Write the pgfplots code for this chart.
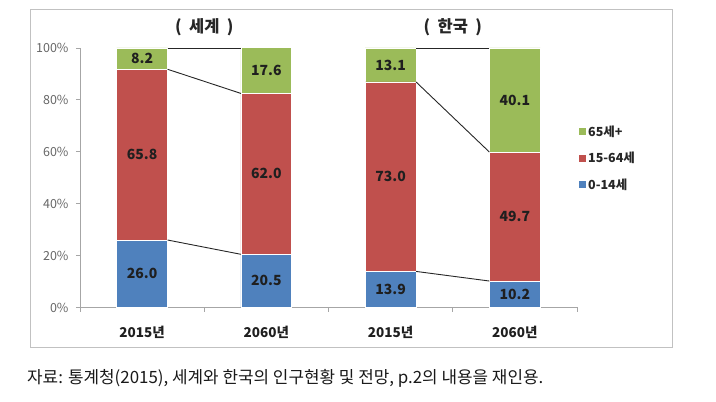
\documentclass[border=0pt]{standalone}
\usepackage{pgfplots}
\pgfplotsset{compat=1.18}
\usepackage{fontspec}
\setmainfont{Noto Sans CJK KR}
\definecolor{cBlue}{HTML}{4F81BD}
\definecolor{cRed}{HTML}{C0504D}
\definecolor{cGreen}{HTML}{9BBB59}
\definecolor{axgray}{HTML}{A6A6A6}
\tikzset{lbl/.style={font=\bfseries\fontsize{14}{14}\selectfont, text=black!88}}
\begin{document}
\begin{tikzpicture}
  \path[use as bounding box] (0pt,0pt) rectangle (716pt,402pt);
  \draw[axgray!70, line width=0.8pt] (30pt,55pt) rectangle (672pt,393pt);

  \begin{axis}[
      at={(80pt,94.5pt)}, anchor=south west,
      scale only axis, width=497pt, height=259.5pt,
      ybar stacked, bar width=0.41,
      xmin=-0.5, xmax=3.5, ymin=0, ymax=100,
      xtick={0,1,2,3},
      xticklabels={2015년,2060년,2015년,2060년},
      minor xtick={-0.5,0.5,1.5,2.5,3.5},
      major x tick style={draw=none},
      ytick={0,20,40,60,80,100},
      yticklabels={0\%,20\%,40\%,60\%,80\%,100\%},
      axis x line*=bottom, axis y line*=left,
      axis line style={axgray, -, line width=0.8pt},
      tick align=outside,
      tick style={axgray, line width=0.8pt},
      major tick length=4pt, minor tick length=4pt,
      xticklabel style={font=\bfseries\fontsize{13.5}{13.5}\selectfont, text=black!88, yshift=-11pt},
      yticklabel style={font=\fontsize{12.5}{12.5}\selectfont, text=black!60, xshift=-4pt},
      clip=false,
      reverse legend,
      legend cell align=left,
      legend style={at={(1.004,0.71)}, anchor=north west, draw=none, fill=none,
        font=\bfseries\fontsize{12.5}{12.5}\selectfont, text=black!85,
        row sep=10.5pt, inner sep=0pt},
      legend image code/.code={\fill[#1, draw=none] (0pt,-3.5pt) rectangle (7pt,3.5pt);},
    ]
    \addplot[fill=cBlue, draw=white, line width=0.8pt] coordinates {(0,26.0) (1,20.5) (2,13.9) (3,10.2)};
    \addlegendentry{0-14세}
    \addplot[fill=cRed, draw=white, line width=0.8pt] coordinates {(0,65.8) (1,62.0) (2,73.0) (3,49.7)};
    \addlegendentry{15-64세}
    \addplot[fill=cGreen, draw=white, line width=0.8pt] coordinates {(0,8.2) (1,17.6) (2,13.1) (3,40.1)};
    \addlegendentry{65세+}
  \end{axis}

  % connector lines and value labels, drawn over the bars
  \begin{axis}[
      at={(80pt,94.5pt)}, anchor=south west,
      scale only axis, width=497pt, height=259.5pt,
      xmin=-0.5, xmax=3.5, ymin=0, ymax=100,
      hide axis, clip=false]
    \addplot[black!85, line width=0.9pt] coordinates {(0.205,26.0) (0.795,20.5)};
    \addplot[black!85, line width=0.9pt] coordinates {(0.205,91.8) (0.795,82.5)};
    \addplot[black!85, line width=0.9pt] coordinates {(0.205,100) (0.795,100)};
    \addplot[black!85, line width=0.9pt] coordinates {(2.205,13.9) (2.795,10.2)};
    \addplot[black!85, line width=0.9pt] coordinates {(2.205,86.9) (2.795,59.9)};
    \addplot[black!85, line width=0.9pt] coordinates {(2.205,100) (2.795,100)};

    \node[lbl] at (axis cs:0,13.0) {26.0};
    \node[lbl] at (axis cs:0,58.9) {65.8};
    \node[lbl] at (axis cs:0,95.9) {8.2};
    \node[lbl] at (axis cs:1,10.25) {20.5};
    \node[lbl] at (axis cs:1,51.5) {62.0};
    \node[lbl] at (axis cs:1,91.3) {17.6};
    \node[lbl] at (axis cs:2,6.95) {13.9};
    \node[lbl] at (axis cs:2,50.4) {73.0};
    \node[lbl] at (axis cs:2,93.45) {13.1};
    \node[lbl] at (axis cs:3,5.1) {10.2};
    \node[lbl] at (axis cs:3,35.05) {49.7};
    \node[lbl] at (axis cs:3,79.95) {40.1};

    \node[font=\bfseries\fontsize{16.5}{16.5}\selectfont, text=black!85] at (axis cs:0.5,108) {(\hspace{0.45em}세계\hspace{0.45em})};
    \node[font=\bfseries\fontsize{16.5}{16.5}\selectfont, text=black!85] at (axis cs:2.5,108) {(\hspace{0.45em}한국\hspace{0.45em})};
  \end{axis}

  \node[anchor=west, font=\fontsize{16.9}{16.9}\selectfont, text=black!90, inner sep=0pt]
    at (27pt,24pt) {자료: 통계청(2015), 세계와 한국의 인구현황 및 전망, p.2의 내용을 재인용.};
\end{tikzpicture}
\end{document}
